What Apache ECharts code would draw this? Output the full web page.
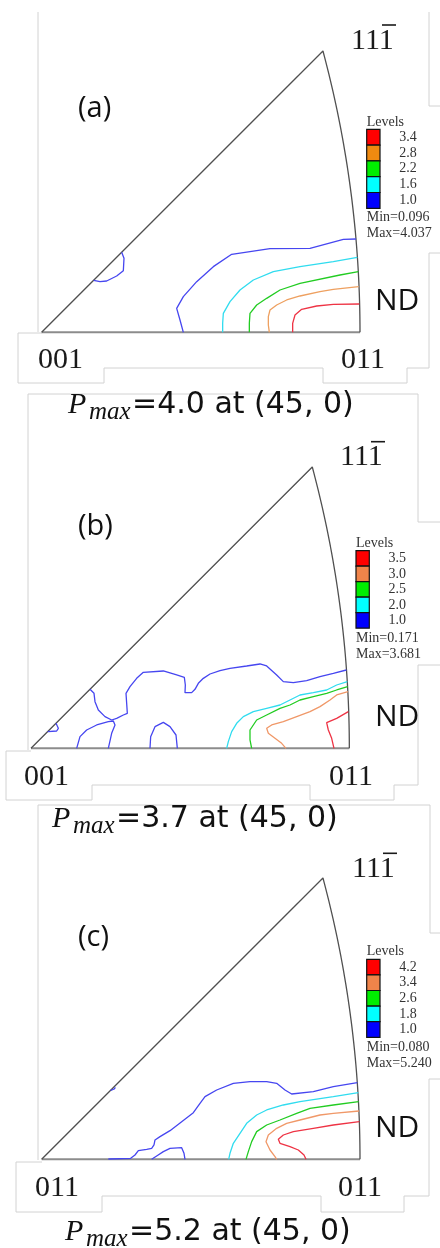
<!DOCTYPE html>
<html><head><meta charset="utf-8">
<script src="https://cdn.jsdelivr.net/npm/echarts@6/dist/echarts.min.js"></script>
<style>html,body{margin:0;padding:0;background:#fff}#c{width:440px;height:1248px}</style>
</head><body><div id="c"></div>
<script>
// ---------- DATA ----------
// Panel labels & pole labels
const panelNames = ['(a)', '(b)', '(c)'];
const leftPole = ['001', '001', '011'];
const rightPole = ['011', '011', '011'];
const topPole = '111';        // last digit barred
const sampleDir = 'ND';
// Contour levels (legend), min/max, Pmax
const levelsA = [3.4, 2.8, 2.2, 1.6, 1.0];
const levelsB = [3.5, 3.0, 2.5, 2.0, 1.0];
const levelsC = [4.2, 3.4, 2.6, 1.8, 1.0];
const minVals = ['0.096', '0.171', '0.080'];
const maxVals = ['4.037', '3.681', '5.240'];
const pmaxVals = ['4.0', '3.7', '5.2'];
const pmaxAt = '(45, 0)';

// Contour lines in IPF units (001 -> 011 edge = 955 units), [u, v]
// Panel (a)
const a10 = [[943,280],[905,279],[805,252],[685,251],[570,234],[515,197],[465,152],[425,107],[405,72],[415,37],[425,0]];
const a10b = [[240,240],[247,222],[245,185],[225,169],[195,154],[175,152],[156,156]];
const a16 = [[947,225],[875,212],[775,197],[695,182],[635,157],[595,127],[565,92],[545,57],[543,27],[543,0]];
const a22 = [[950,182],[895,172],[775,147],[715,127],[675,102],[645,82],[625,57],[623,27],[623,0]];
const a28 = [[951,137],[875,129],[835,122],[775,109],[735,97],[705,82],[685,67],[680,47],[680,22],[683,0]];
const a34 = [[953,85],[875,84],[825,79],[780,69],[760,52],[753,27],[753,0]];
// Panel (b)
const b10 = [[177,177],[189,165],[192,140],[202,115],[222,95],[242,85],[257,90],[277,100],[289,105],[287,135],[285,165],[297,185],[317,210],[337,228],[397,232],[437,220],[460,213],[463,190],[462,167],[482,167],[492,177],[502,195],[517,210],[537,223],[567,233],[597,240],[647,247],[687,253],[707,247],[737,220],[757,200],[787,197],[827,203],[867,215],[907,225],[946,235]];
const b10b = [[137,0],[147,35],[167,55],[197,70],[232,80],[247,82],[252,70],[242,45],[232,0]];
const b10c = [[357,0],[359,35],[372,65],[397,78],[417,65],[435,40],[439,0]];
const b10d = [[75,75],[82,60],[77,52],[50,50]];
const b20 = [[949,200],[917,190],[887,175],[847,167],[807,160],[777,145],[747,130],[707,120],[667,110],[637,95],[617,75],[602,50],[592,20],[587,0]];
const b25 = [[950,185],[917,175],[887,165],[847,155],[807,145],[777,130],[747,120],[707,100],[677,85],[657,55],[657,25],[662,0]];
const b30 = [[951,170],[917,160],[897,145],[867,125],[837,110],[797,95],[757,80],[722,70],[707,60],[712,45],[732,30],[752,15],[765,0]];
const b35 = [[952,110],[917,90],[887,77],[892,55],[902,30],[909,0]];
// Panel (c)
const c10 = [[947,230],[875,218],[815,203],[750,196],[730,208],[705,228],[675,233],[625,233],[575,228],[525,208],[490,188],[475,168],[455,140],[420,113],[385,86],[355,68],[340,58],[337,43],[330,33],[315,30],[290,26],[280,13],[267,3],[200,1]];
const c10b = [[330,0],[345,10],[365,23],[385,33],[420,35],[427,18],[430,0]];
const c10c = [[207,207],[218,211],[221,216],[216,216]];
const c18 = [[950,200],[875,188],[775,173],[725,163],[675,148],[645,133],[615,108],[595,78],[575,48],[565,18],[561,0]];
const c26 = [[951,173],[875,163],[805,153],[765,138],[715,118],[675,103],[645,83],[630,53],[620,23],[613,0]];
const c34 = [[952,145],[875,138],[835,133],[775,118],[735,108],[705,93],[680,73],[673,53],[685,28],[700,8],[705,0]];
const c42 = [[953,113],[875,103],[815,93],[755,83],[725,73],[710,60],[715,48],[745,38],[770,28],[787,13],[793,0]];

// ---------- STYLE / LAYOUT ----------
const EDGE = 955;
const POLE_FONT = 30;
const COL = { blue: '#4646f0', cyan: '#30dcef', green: '#22cc22', orange: '#eea060', orange2: '#f09868', red: '#ee3344' };
const BOX = { red: '#ff0000', orange: '#f08a10', orange2: '#f0844a', green: '#00ee00', cyan: '#00ffff', blue: '#0000ff' };

const panels = [
  { levels: levelsA, contours: [[a34,'red'],[a28,'orange'],[a22,'green'],[a16,'cyan'],[a10,'blue'],[a10b,'blue']], orange: 'orange',
    grid: { left: 41.67, top: 32.33 },
    topLbl: { x: 351, y: 41.5, barY: 25 }, name: { x: 78, y: 109 }, nd: { x: 375, y: 301 },
    lp: { x: 38, y: 360 }, rp: { x: 341, y: 360 },
    leg: { x: 366.7, y: 116, top: 129.3, h: 15.8, w: 13.3, rx: 416.7, min: 217.5, max: 233.5 },
    pm: { x: 68, y: 405.5 } },
  { levels: levelsB, contours: [[b35,'red'],[b30,'orange2'],[b25,'green'],[b20,'cyan'],[b10,'blue'],[b10b,'blue'],[b10c,'blue'],[b10d,'blue']], orange: 'orange2',
    grid: { left: 31, top: 448.33 },
    topLbl: { x: 340, y: 456.7, barY: 441.7 }, name: { x: 78, y: 527 }, nd: { x: 375, y: 717.5 },
    lp: { x: 24, y: 776.7 }, rp: { x: 329, y: 776.7 },
    leg: { x: 356, y: 537, top: 550.7, h: 15.5, w: 13.3, rx: 406, min: 638.5, max: 654.5 },
    pm: { x: 52, y: 819 } },
  { levels: levelsC, contours: [[c42,'red'],[c34,'orange2'],[c26,'green'],[c18,'cyan'],[c10,'blue'],[c10b,'blue'],[c10c,'blue']], orange: 'orange2',
    grid: { left: 41.67, top: 859.33 },
    topLbl: { x: 352, y: 869, barY: 853.3 }, name: { x: 78, y: 938 }, nd: { x: 375, y: 1128.5 },
    lp: { x: 35, y: 1188 }, rp: { x: 338, y: 1188 },
    leg: { x: 366.7, y: 945, top: 959.3, h: 15.6, w: 13.3, rx: 416.7, min: 1047.5, max: 1063.3 },
    pm: { x: 65, y: 1232 } }
];

// faint frame lines of the composed figure
const frames = [
  [[38,12],[38,332]],
  [[42,333],[18,333],[18,383],[104,383],[104,368],[323,368],[323,383],[407,383],[407,368],[429,368],[429,253],[440,253]],
  [[429,12],[429,106],[440,106]],
  [[28,750],[28,394],[418,394],[418,522],[440,522]],
  [[31,751],[6,751],[6,800],[92,800],[92,785],[310,785],[310,800],[394,800],[394,785],[418,785],[418,665],[440,665]],
  [[38,1160],[38,805],[430,805],[430,933],[440,933]],
  [[42,1162],[16,1162],[16,1212],[102,1212],[102,1196],[321,1196],[321,1212],[404,1212],[404,1196],[429,1196],[429,1079],[440,1079]]
];

// IPF boundary: great circle from [011] to [111] in stereographic projection
function arcPoints(n) {
  const t225 = Math.SQRT2 - 1, pts = [];
  for (let i = 0; i <= n; i++) {
    const t = i / n, s = Math.sqrt(t * t + 2) + 1;
    pts.push([EDGE / s / t225, EDGE * t / s / t225]);
  }
  return pts;
}
const arc = arcPoints(40);

const grids = [], xAxes = [], yAxes = [], series = [], graphics = [];
const txt = (x, y, text, font, fill, align) => ({ type: 'text', x, y, silent: true,
  style: { text, font, fill: fill || '#111', textAlign: align || 'left', textVerticalAlign: 'middle', align: align || 'left', verticalAlign: 'middle' } });

frames.forEach(p => graphics.push({ type: 'polyline', silent: true, shape: { points: p }, style: { stroke: '#d2d2d2', lineWidth: 1, fill: null } }));

panels.forEach((p, i) => {
  grids.push({ left: p.grid.left, top: p.grid.top, width: 318.33, height: 300 });
  xAxes.push({ type: 'value', gridIndex: i, min: 0, max: EDGE, show: false });
  yAxes.push({ type: 'value', gridIndex: i, min: 0, max: 900, show: false });
  const base = { type: 'line', xAxisIndex: i, yAxisIndex: i, symbol: 'none', showSymbol: false, silent: true, animation: false, clip: false };
  series.push(Object.assign({}, base, { data: [[0, 0], [EDGE, 0]], lineStyle: { color: '#8c8c8c', width: 2 }, z: 2 }));
  series.push(Object.assign({}, base, { data: arc.concat([[0, 0]]), lineStyle: { color: '#505050', width: 1.3 }, z: 2 }));
  p.contours.forEach(([d, c]) => series.push(Object.assign({}, base, { data: d, lineStyle: { color: COL[c], width: 1.3 }, z: 3 })));

  // labels
  const dw = POLE_FONT * 0.5;
  graphics.push(txt(p.topLbl.x, p.topLbl.y, topPole, POLE_FONT + 'px "Liberation Serif"', '#1a1a1a'));
  graphics.push({ type: 'line', silent: true, shape: { x1: p.topLbl.x + 2 * dw + 1, y1: p.topLbl.barY, x2: p.topLbl.x + 3 * dw, y2: p.topLbl.barY }, style: { stroke: '#1a1a1a', lineWidth: 1.6 } });
  graphics.push(txt(p.name.x, p.name.y, panelNames[i], '29px "Open Sans"'));
  graphics.push(txt(p.nd.x, p.nd.y, sampleDir, '30px "Open Sans"'));
  graphics.push(txt(p.lp.x, p.lp.y, leftPole[i], POLE_FONT + 'px "Liberation Serif"', '#1a1a1a'));
  graphics.push(txt(p.rp.x, p.rp.y, rightPole[i], POLE_FONT + 'px "Liberation Serif"', '#1a1a1a'));

  // legend
  const L = p.leg;
  graphics.push(txt(L.x, L.y + 6, 'Levels', '14px "Liberation Serif"', '#333'));
  const boxCols = ['red', p.orange, 'green', 'cyan', 'blue'];
  p.levels.forEach((lv, k) => {
    const yTop = L.top + k * L.h;
    graphics.push({ type: 'rect', silent: true, shape: { x: L.x, y: yTop, width: L.w, height: L.h }, style: { fill: BOX[boxCols[k]], stroke: '#111', lineWidth: 1.2 } });
    graphics.push(txt(L.rx, yTop + L.h / 2, lv.toFixed(1), '14px "Liberation Serif"', '#333', 'right'));
  });
  graphics.push(txt(L.x, L.min, 'Min=' + minVals[i], '14px "Liberation Serif"', '#333'));
  graphics.push(txt(L.x, L.max, 'Max=' + maxVals[i], '14px "Liberation Serif"', '#333'));

  // Pmax caption
  graphics.push(txt(p.pm.x, p.pm.y, 'P', 'italic 30px "Liberation Serif"', '#111'));
  graphics.push(txt(p.pm.x + 21, p.pm.y + 7, 'max', 'italic 25px "Liberation Serif"', '#111'));
  graphics.push(txt(p.pm.x + 64, p.pm.y, '=' + pmaxVals[i] + ' at ' + pmaxAt, '30px "DejaVu Sans"', '#111'));
});

const chart = echarts.init(document.getElementById('c'), null, { renderer: 'canvas' });
chart.setOption({
  backgroundColor: '#ffffff',
  animation: false,
  grid: grids, xAxis: xAxes, yAxis: yAxes, series,
  graphic: { elements: graphics }
});
</script></body></html>
